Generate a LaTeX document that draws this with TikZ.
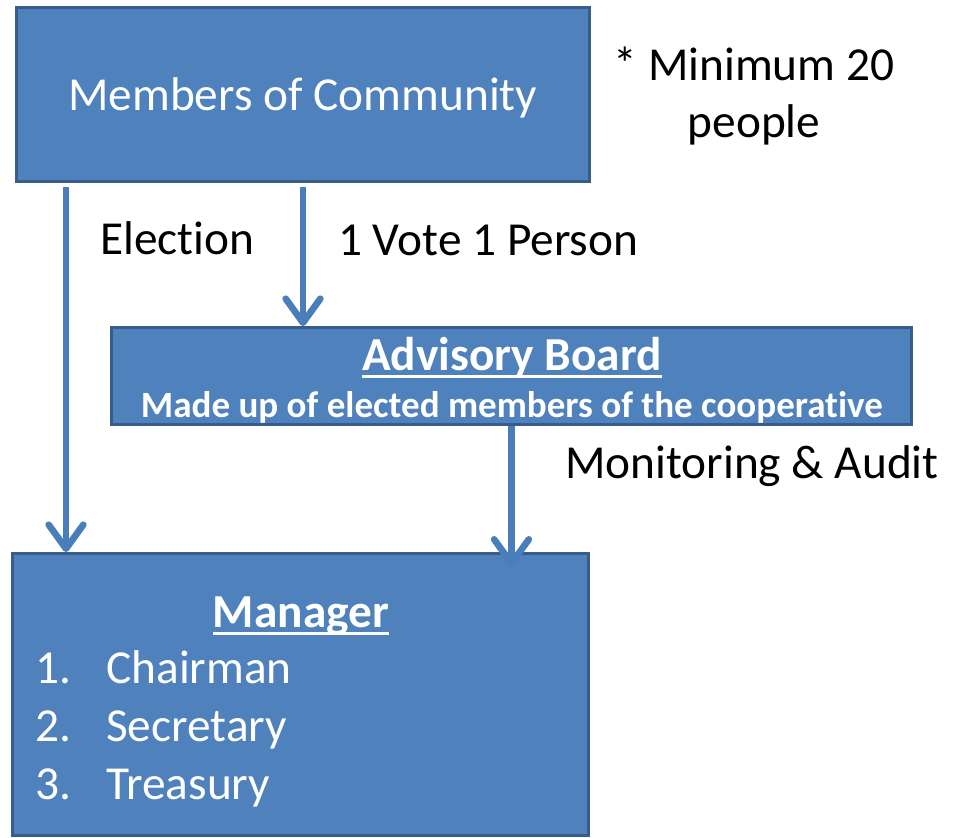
\documentclass[tikz,border=0pt]{standalone}
\usepackage{fontspec}
\setmainfont{Carlito}[Ligatures=NoCommon]
\usetikzlibrary{arrows.meta}
\definecolor{boxblue}{HTML}{4F81BD}
\definecolor{boxline}{HTML}{385D8A}
\definecolor{flowblue}{HTML}{4A7EBB}
\newcommand{\bigtxt}{\fontsize{35.5pt}{43pt}\selectfont}
\newcommand{\subtxt}{\fontsize{27.8pt}{30pt}\selectfont}
\newsavebox{\ulsave}
\newcommand{\ulword}[1]{\sbox{\ulsave}{#1}\rlap{\rule[-6pt]{\wd\ulsave}{2pt}}\usebox{\ulsave}}

\begin{document}
\begin{tikzpicture}[x = 0.75pt, y = -0.75pt,
  box/.style = {draw=boxline, fill=boxblue, line width=2.2pt, inner sep=0pt},
  flow/.style = {draw=flowblue, line width=5pt,
    -{Straight Barb[length=18pt, width=26pt, round]}},
  dark/.style = {font=\bigtxt, text=black, inner sep=0pt},
  light/.style = {font=\bigtxt, text=white, inner sep=0pt}]
\useasboundingbox (0,0) rectangle (961,838);
% boxes
\node[box, minimum width=429.75pt, minimum height=130.5pt] at (303,94.5) (members) {};
\node[box, minimum width=600pt, minimum height=72.75pt] at (511.5,376) (board) {};
\node[box, minimum width=432pt, minimum height=211.5pt] at (300.5,694.5) (manager) {};
% box texts
\node[light, anchor=base west] at (68,111) (memberstxt) {Members of Community};
\node[light, font=\bigtxt\bfseries, anchor=base] at (512,370) (boardtxt) {\ulword{Advisory Board}};
\node[light, font=\subtxt\bfseries, anchor=base] at (512,417) (boardsub) {Made up of elected members of the cooperative};
\node[light, font=\bigtxt\bfseries, anchor=base] at (301,627) (managertxt) {\ulword{Manager}};
\node[light, anchor=base west] at (35,683) (n1) {1.};
\node[light, anchor=base west] at (106,683) (chair) {Chairman};
\node[light, anchor=base west] at (35,741) (n2) {2.};
\node[light, anchor=base west] at (106,741) (secr) {Secretary};
\node[light, anchor=base west] at (35,799) (n3) {3.};
\node[light, anchor=base west] at (106,799) (treas) {Treasury};
% labels
\node[dark, anchor=base west] at (100,255) (election) {Election};
\node[dark, anchor=base west] at (338,256) (vote) {1 Vote 1 Person};
\node[dark, align=center, anchor=base] at (754,138) (minimum) {* Minimum 20\\people};
\node[dark, anchor=base west] at (565,478) (audit) {Monitoring \& Audit};
% arrows
\coordinate (leftx) at (66,0);
\draw[flow, shorten <=3pt] (members.south -| leftx) -- (manager.north -| leftx);
\draw[flow, shorten <=3pt] (members.south) -- (members.south |- board.north);
\draw[flow, shorten >=-11pt] (board.south) -- (board.south |- manager.north);
\end{tikzpicture}
\end{document}
